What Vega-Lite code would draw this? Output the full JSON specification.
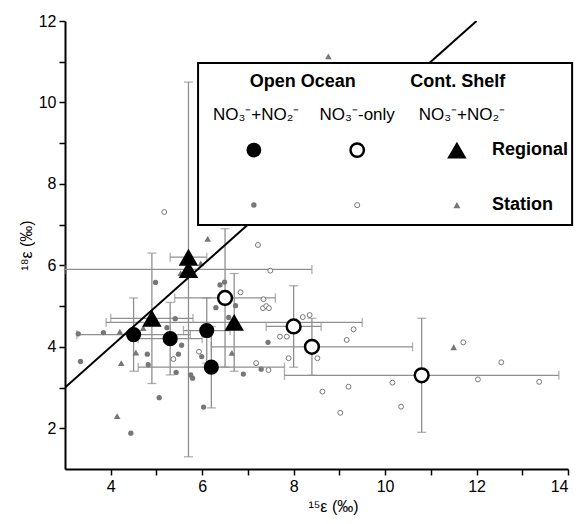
{
  "$schema": "https://vega.github.io/schema/vega-lite/v6.json",
  "width": 503,
  "height": 448,
  "autosize": "none",
  "padding": {"left": 65, "top": 21, "right": 14, "bottom": 55},
  "datasets": {
    "station": [
      {"group": "oo_nn", "x": 4.98, "y": 5.58}, {"group": "oo_nn", "x": 6.39, "y": 5.52}, {"group": "oo_nn", "x": 6.49, "y": 5.59},
      {"group": "oo_nn", "x": 6.56, "y": 5.22}, {"group": "oo_nn", "x": 6.30, "y": 4.96}, {"group": "oo_nn", "x": 6.73, "y": 5.01},
      {"group": "oo_nn", "x": 5.41, "y": 4.69}, {"group": "oo_nn", "x": 5.23, "y": 4.47}, {"group": "oo_nn", "x": 3.29, "y": 4.32},
      {"group": "oo_nn", "x": 3.84, "y": 4.35}, {"group": "oo_nn", "x": 4.53, "y": 4.23}, {"group": "oo_nn", "x": 6.08, "y": 4.51},
      {"group": "oo_nn", "x": 5.55, "y": 4.04}, {"group": "oo_nn", "x": 5.48, "y": 3.82}, {"group": "oo_nn", "x": 4.80, "y": 3.82},
      {"group": "oo_nn", "x": 4.82, "y": 3.56}, {"group": "oo_nn", "x": 3.34, "y": 3.64}, {"group": "oo_nn", "x": 5.99, "y": 3.76},
      {"group": "oo_nn", "x": 5.43, "y": 3.37}, {"group": "oo_nn", "x": 5.75, "y": 3.31}, {"group": "oo_nn", "x": 5.79, "y": 3.23},
      {"group": "oo_nn", "x": 5.06, "y": 2.75}, {"group": "oo_nn", "x": 6.03, "y": 2.52}, {"group": "oo_nn", "x": 4.44, "y": 1.88},
      {"group": "oo_nn", "x": 7.44, "y": 4.11}, {"group": "oo_nn", "x": 6.90, "y": 3.33}, {"group": "oo_nn", "x": 7.29, "y": 3.45},
      {"group": "oo_nn", "x": 6.58, "y": 4.72},
      {"group": "oo_n", "x": 5.17, "y": 7.31}, {"group": "oo_n", "x": 7.22, "y": 6.50}, {"group": "oo_n", "x": 7.49, "y": 5.87},
      {"group": "oo_n", "x": 6.84, "y": 5.34}, {"group": "oo_n", "x": 7.34, "y": 5.17}, {"group": "oo_n", "x": 7.33, "y": 4.95},
      {"group": "oo_n", "x": 7.40, "y": 5.00}, {"group": "oo_n", "x": 7.46, "y": 4.95}, {"group": "oo_n", "x": 8.20, "y": 4.73},
      {"group": "oo_n", "x": 8.35, "y": 4.78}, {"group": "oo_n", "x": 7.70, "y": 4.25}, {"group": "oo_n", "x": 7.85, "y": 4.25},
      {"group": "oo_n", "x": 7.89, "y": 3.72}, {"group": "oo_n", "x": 7.18, "y": 3.60}, {"group": "oo_n", "x": 7.45, "y": 3.43},
      {"group": "oo_n", "x": 5.93, "y": 3.88}, {"group": "oo_n", "x": 5.37, "y": 3.70}, {"group": "oo_n", "x": 8.52, "y": 3.72},
      {"group": "oo_n", "x": 9.31, "y": 4.43}, {"group": "oo_n", "x": 9.16, "y": 4.17}, {"group": "oo_n", "x": 11.71, "y": 4.11},
      {"group": "oo_n", "x": 12.54, "y": 3.62}, {"group": "oo_n", "x": 12.03, "y": 3.20}, {"group": "oo_n", "x": 13.37, "y": 3.14},
      {"group": "oo_n", "x": 10.16, "y": 3.12}, {"group": "oo_n", "x": 9.20, "y": 3.02}, {"group": "oo_n", "x": 8.63, "y": 2.90},
      {"group": "oo_n", "x": 10.35, "y": 2.53}, {"group": "oo_n", "x": 9.02, "y": 2.38},
      {"group": "cs", "x": 6.12, "y": 6.65}, {"group": "cs", "x": 5.53, "y": 5.81}, {"group": "cs", "x": 5.97, "y": 6.05},
      {"group": "cs", "x": 4.20, "y": 4.37}, {"group": "cs", "x": 4.71, "y": 4.46}, {"group": "cs", "x": 4.55, "y": 3.86},
      {"group": "cs", "x": 4.23, "y": 3.60}, {"group": "cs", "x": 6.65, "y": 3.85}, {"group": "cs", "x": 4.14, "y": 2.30},
      {"group": "cs", "x": 8.76, "y": 11.13}, {"group": "cs", "x": 11.50, "y": 3.99}
    ],
    "regional": [
      {"group": "oo_nn", "x": 4.5, "y": 4.3, "xlo": 3.26, "xhi": 5.74, "ylo": 3.4, "yhi": 5.2},
      {"group": "oo_nn", "x": 5.3, "y": 4.2, "xlo": 4.6, "xhi": 6.0, "ylo": 3.31, "yhi": 5.09},
      {"group": "oo_nn", "x": 6.1, "y": 4.4, "xlo": 5.59, "xhi": 6.61, "ylo": 3.6, "yhi": 5.2},
      {"group": "oo_nn", "x": 6.2, "y": 3.5, "xlo": 4.6, "xhi": 7.8, "ylo": 2.5, "yhi": 4.5},
      {"group": "oo_n", "x": 6.5, "y": 5.2, "xlo": 5.4, "xhi": 7.6, "ylo": 3.5, "yhi": 6.9},
      {"group": "oo_n", "x": 8.0, "y": 4.5, "xlo": 7.4, "xhi": 8.6, "ylo": 3.5, "yhi": 5.5},
      {"group": "oo_n", "x": 8.4, "y": 4.0, "xlo": 6.2, "xhi": 10.6, "ylo": 3.3, "yhi": 4.7},
      {"group": "oo_n", "x": 10.8, "y": 3.3, "xlo": 7.8, "xhi": 13.8, "ylo": 1.9, "yhi": 4.7},
      {"group": "cs", "x": 5.7, "y": 6.2, "xlo": 5.3, "xhi": 6.1, "ylo": null, "yhi": null},
      {"group": "cs", "x": 5.7, "y": 5.9, "xlo": 3.0, "xhi": 8.4, "ylo": 1.3, "yhi": 10.5},
      {"group": "cs", "x": 4.9, "y": 4.7, "xlo": 4.0, "xhi": 5.8, "ylo": 3.1, "yhi": 6.3},
      {"group": "cs", "x": 6.7, "y": 4.6, "xlo": 3.9, "xhi": 9.5, "ylo": 3.4, "yhi": 5.8}
    ],
    "fit": [{"x": 3, "y": 3}, {"x": 12, "y": 12}]
  },
  "layer": [
    {
      "data": {"name": "regional"},
      "transform": [{"filter": "datum.xlo != null"}],
      "mark": {"type": "errorbar", "ticks": {"size": 9}, "color": "#8f8f8f", "thickness": 1.3},
      "encoding": {
        "x": {"field": "xlo", "type": "quantitative", "title": "¹⁵ε (‰)", "scale": {"domain": [3, 14], "nice": false, "zero": false},
              "axis": {"title": "¹⁵ε (‰)", "titleX": 268, "values": [4, 5, 6, 7, 8, 9, 10, 11, 12, 13, 14], "labelExpr": "datum.value % 2 == 0 ? datum.label : ''"}},
        "x2": {"field": "xhi"},
        "y": {"field": "y", "type": "quantitative", "title": "¹⁸ε (‰)", "scale": {"domain": [1, 12], "nice": false, "zero": false},
              "axis": {"title": "¹⁸ε (‰)", "values": [2, 3, 4, 5, 6, 7, 8, 9, 10, 11, 12], "labelExpr": "datum.value % 2 == 0 ? datum.label : ''"}}
      }
    },
    {
      "data": {"name": "regional"},
      "transform": [{"filter": "datum.ylo != null"}],
      "mark": {"type": "errorbar", "ticks": {"size": 9}, "color": "#8f8f8f", "thickness": 1.3},
      "encoding": {
        "x": {"field": "x", "type": "quantitative", "title": "¹⁵ε (‰)"},
        "y": {"field": "ylo", "type": "quantitative", "title": "¹⁸ε (‰)"},
        "y2": {"field": "yhi"}
      }
    },
    {
      "data": {"name": "station"},
      "transform": [{"filter": "datum.group == 'oo_nn'"}],
      "mark": {"type": "point", "shape": "circle", "filled": true, "color": "#777777", "size": 28, "opacity": 1},
      "encoding": {"x": {"field": "x", "type": "quantitative"}, "y": {"field": "y", "type": "quantitative"}}
    },
    {
      "data": {"name": "station"},
      "transform": [{"filter": "datum.group == 'oo_n'"}],
      "mark": {"type": "point", "shape": "circle", "filled": false, "fill": "white", "stroke": "#777777", "strokeWidth": 1, "size": 24, "opacity": 1},
      "encoding": {"x": {"field": "x", "type": "quantitative"}, "y": {"field": "y", "type": "quantitative"}}
    },
    {
      "data": {"name": "station"},
      "transform": [{"filter": "datum.group == 'cs'"}],
      "mark": {"type": "point", "shape": "triangle-up", "filled": true, "color": "#777777", "size": 45, "opacity": 1},
      "encoding": {"x": {"field": "x", "type": "quantitative"}, "y": {"field": "y", "type": "quantitative"}}
    },
    {
      "data": {"name": "fit"},
      "mark": {"type": "line", "color": "black", "strokeWidth": 2, "clip": true},
      "encoding": {"x": {"field": "x", "type": "quantitative"}, "y": {"field": "y", "type": "quantitative"}}
    },
    {
      "data": {"name": "regional"},
      "transform": [{"filter": "datum.group == 'oo_nn'"}],
      "mark": {"type": "point", "shape": "circle", "filled": true, "color": "black", "size": 230, "opacity": 1},
      "encoding": {"x": {"field": "x", "type": "quantitative"}, "y": {"field": "y", "type": "quantitative"}}
    },
    {
      "data": {"name": "regional"},
      "transform": [{"filter": "datum.group == 'oo_n'"}],
      "mark": {"type": "point", "shape": "circle", "filled": false, "fill": "white", "stroke": "black", "strokeWidth": 2.5, "size": 190, "opacity": 1},
      "encoding": {"x": {"field": "x", "type": "quantitative"}, "y": {"field": "y", "type": "quantitative"}}
    },
    {
      "data": {"name": "regional"},
      "transform": [{"filter": "datum.group == 'cs'"}],
      "mark": {"type": "point", "shape": "triangle-up", "filled": true, "color": "black", "size": 380, "opacity": 1},
      "encoding": {"x": {"field": "x", "type": "quantitative"}, "y": {"field": "y", "type": "quantitative"}}
    },
    {
      "data": {"values": [{}]},
      "mark": {"type": "rect", "fill": "white", "stroke": "black", "strokeWidth": 2, "clip": false},
      "encoding": {"x": {"datum": 5.91}, "x2": {"datum": 14.09}, "y": {"datum": 10.97}, "y2": {"datum": 6.99}}
    },
    {
      "data": {"values": [{}]},
      "mark": {"type": "text", "text": "Open Ocean", "font": "Liberation Sans", "fontWeight": "bold", "fontSize": 18, "align": "center", "baseline": "middle"},
      "encoding": {"x": {"datum": 8.2}, "y": {"datum": 10.5}}
    },
    {
      "data": {"values": [{}]},
      "mark": {"type": "text", "text": "Cont. Shelf", "font": "Liberation Sans", "fontWeight": "bold", "fontSize": 18, "align": "center", "baseline": "middle"},
      "encoding": {"x": {"datum": 11.59}, "y": {"datum": 10.5}}
    },
    {
      "data": {"values": [{}]},
      "mark": {"type": "text", "text": "NO₃⁻+NO₂⁻", "font": "Liberation Sans", "fontSize": 17, "align": "center", "baseline": "middle"},
      "encoding": {"x": {"datum": 7.18}, "y": {"datum": 9.69}}
    },
    {
      "data": {"values": [{}]},
      "mark": {"type": "text", "text": "NO₃⁻-only", "font": "Liberation Sans", "fontSize": 17, "align": "center", "baseline": "middle"},
      "encoding": {"x": {"datum": 9.39}, "y": {"datum": 9.69}}
    },
    {
      "data": {"values": [{}]},
      "mark": {"type": "text", "text": "NO₃⁻+NO₂⁻", "font": "Liberation Sans", "fontSize": 17, "align": "center", "baseline": "middle"},
      "encoding": {"x": {"datum": 11.68}, "y": {"datum": 9.69}}
    },
    {
      "data": {"values": [{}]},
      "mark": {"type": "text", "text": "Regional", "font": "Liberation Sans", "fontWeight": "bold", "fontSize": 18, "align": "left", "baseline": "middle"},
      "encoding": {"x": {"datum": 12.34}, "y": {"datum": 8.83}}
    },
    {
      "data": {"values": [{}]},
      "mark": {"type": "text", "text": "Station", "font": "Liberation Sans", "fontWeight": "bold", "fontSize": 18, "align": "left", "baseline": "middle"},
      "encoding": {"x": {"datum": 12.34}, "y": {"datum": 7.48}}
    },
    {
      "data": {"values": [{}]},
      "mark": {"type": "point", "shape": "circle", "filled": true, "color": "black", "size": 220, "opacity": 1},
      "encoding": {"x": {"datum": 7.13}, "y": {"datum": 8.83}}
    },
    {
      "data": {"values": [{}]},
      "mark": {"type": "point", "shape": "circle", "filled": false, "fill": "white", "stroke": "black", "strokeWidth": 2.5, "size": 180, "opacity": 1},
      "encoding": {"x": {"datum": 9.39}, "y": {"datum": 8.83}}
    },
    {
      "data": {"values": [{}]},
      "mark": {"type": "point", "shape": "triangle-up", "filled": true, "color": "black", "size": 380, "opacity": 1},
      "encoding": {"x": {"datum": 11.57}, "y": {"datum": 8.83}}
    },
    {
      "data": {"values": [{}]},
      "mark": {"type": "point", "shape": "circle", "filled": true, "color": "#777777", "size": 30, "opacity": 1},
      "encoding": {"x": {"datum": 7.13}, "y": {"datum": 7.48}}
    },
    {
      "data": {"values": [{}]},
      "mark": {"type": "point", "shape": "circle", "filled": false, "fill": "white", "stroke": "#777777", "strokeWidth": 1, "size": 26, "opacity": 1},
      "encoding": {"x": {"datum": 9.39}, "y": {"datum": 7.48}}
    },
    {
      "data": {"values": [{}]},
      "mark": {"type": "point", "shape": "triangle-up", "filled": true, "color": "#777777", "size": 50, "opacity": 1},
      "encoding": {"x": {"datum": 11.57}, "y": {"datum": 7.48}}
    }
  ],
  "config": {
    "view": {"stroke": null},
    "axis": {
      "grid": false,
      "domainColor": "black",
      "domainWidth": 2,
      "tickColor": "black",
      "tickWidth": 1.5,
      "tickSize": 6,
      "labelFont": "Liberation Sans",
      "labelFontSize": 16,
      "labelColor": "black",
      "labelPadding": 3,
      "titleFont": "Liberation Sans",
      "titleFontSize": 16,
      "titleFontWeight": "normal",
      "titleColor": "black"
    }
  }
}
